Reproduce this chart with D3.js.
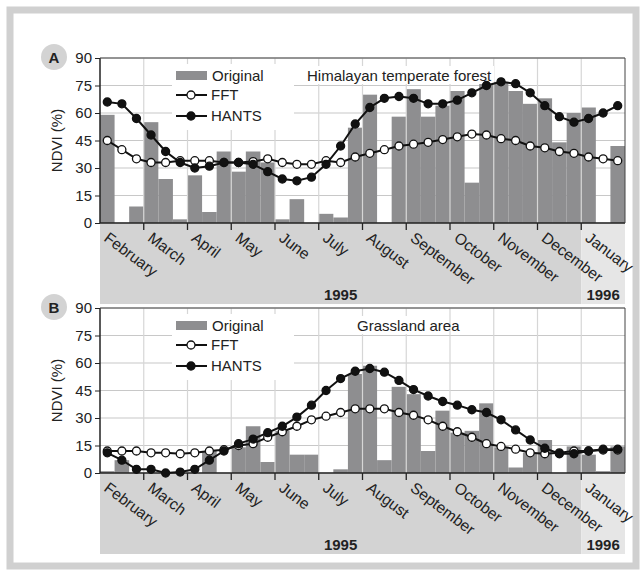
<!DOCTYPE html>
<html><head><meta charset="utf-8">
<script src="https://cdn.jsdelivr.net/npm/d3@7"></script>
<style>body{margin:0;background:#fff}svg{font-family:"Liberation Sans",Arial,sans-serif}</style>
</head><body><svg id="c" width="640" height="577"></svg>
<script>
const months=["February","March","April","May","June","July","August","September","October","November","December","January"];
const yTicks=[0,15,30,45,60,75,90];
const barsA=[59,0,9,55,24,2,26,6,39,28,39,33,2,13,0,5,3,52,70,0,58,73,58,64,72,22,77,77,72,65,68,44,60,63,0,42];
const fftA=[45,40,35,33,33,34,34,34,33,33,33.5,35,33,32,32,34,33,36,38,40,42,43,44,45.5,47,48.5,48,46,45,42,41,39,38,36,35,34];
const hantsA=[66,65,57,48,39,33,30,31,33,33,32,28,24,23,25,32,42,54,63,68,69,68,65,65,67,71,75,77,76,71,64,58,55,57,60,64];
const barsB=[1,7,0,0,0,0,0,12,0,14,25.5,6,23,10,10,0,2,54,58.5,7,47,43,12,34,22,23,38,14,3,11,18,0,14.5,10,1,14.5];
const fftB=[12,12,12,11,11,10.5,11,12,12.7,15,16,19.5,22.5,25.5,29,31,33,35,35,35,33,31.5,29,25.5,22.5,19.5,16,14.5,13,11,10.5,11,12,12,12.5,12.5];
const hantsB=[11,7,2,2,0,0.5,2,7,12,16,18.5,22,25.5,30.5,37,45,51.5,55.5,57,55,50.5,45.5,42,39,37,34.5,33,29,23.5,18,13.5,10.5,10.5,12,13,13];
const panels=[{id:"A",title:"Himalayan temperate forest",bars:barsA,fft:fftA,hants:hantsA,top:58},
              {id:"B",title:"Grassland area",bars:barsB,fft:fftB,hants:hantsB,top:308}];
const svg=d3.select("#c");
svg.append("rect").attr("x",10).attr("y",10).attr("width",626).attr("height",556).attr("fill","none").attr("stroke","#d0d0d0").attr("stroke-width",7);
const L=100,R=625,H=165,N=36;
const x=d3.scaleBand().domain(d3.range(N)).range([L,R]).padding(0);
panels.forEach(p=>{
  const g=svg.append("g");
  const y=d3.scaleLinear().domain([0,90]).range([p.top+H,p.top]);
  const bottom=p.top+H;
  const mStart=i=>x(i*3);
  g.append("rect").attr("x",L).attr("y",bottom).attr("width",mStart(11)-L).attr("height",81).attr("fill","#d3d3d3");
  g.append("rect").attr("x",mStart(11)).attr("y",bottom).attr("width",R-mStart(11)).attr("height",81).attr("fill","#e6e6e6");
  g.selectAll(".hg").data(yTicks).join("line").attr("x1",L).attr("x2",R).attr("y1",d=>y(d)).attr("y2",d=>y(d)).attr("stroke","#c8c8c8").attr("stroke-width",1.2);
  g.selectAll(".b").data(p.bars).join("rect").attr("x",(d,i)=>x(i)).attr("width",x.bandwidth()).attr("y",d=>y(d)).attr("height",d=>bottom-y(d)).attr("fill","#8e8e90");
  g.selectAll(".vg").data(d3.range(1,12)).join("line").attr("x1",mStart).attr("x2",mStart).attr("y1",p.top).attr("y2",bottom).attr("stroke","#d6d6d6").attr("stroke-width",1.2);
  g.append("rect").attr("x",172).attr("y",p.top+6).attr("width",122).attr("height",66).attr("fill","#fff");
  const tw=p.id==="A"?190:90;
  g.append("rect").attr("x",(p.id==="A"?307:357)-3).attr("y",p.top+8).attr("width",tw).attr("height",18).attr("fill","#fff");
  g.append("line").attr("x1",L).attr("x2",L).attr("y1",p.top).attr("y2",bottom).attr("stroke","#222").attr("stroke-width",1.5);
  g.append("line").attr("x1",L).attr("x2",R).attr("y1",bottom).attr("y2",bottom).attr("stroke","#222").attr("stroke-width",1.5);
  g.append("line").attr("x1",L).attr("x2",R).attr("y1",p.top).attr("y2",p.top).attr("stroke","#444").attr("stroke-width",1);
  g.append("line").attr("x1",R).attr("x2",R).attr("y1",p.top).attr("y2",bottom).attr("stroke","#444").attr("stroke-width",1);
  const ya=d3.axisLeft(y).tickValues(yTicks).tickSize(5).tickPadding(3);
  const ag=g.append("g").attr("transform",`translate(${L},0)`).call(ya);
  ag.select(".domain").remove();
  ag.selectAll("text").attr("font-size",15).attr("fill","#222");
  ag.selectAll("line").attr("stroke","#222");
  g.selectAll(".mt").data(d3.range(1,12)).join("line").attr("x1",mStart).attr("x2",mStart).attr("y1",bottom).attr("y2",bottom+7).attr("stroke","#222").attr("stroke-width",1.3);
  g.selectAll(".ml").data(months).join("text").attr("transform",(d,i)=>`translate(${mStart(i)+3},${bottom+17}) rotate(37)`).attr("font-size",15.5).attr("fill","#222").text(d=>d);
  g.append("text").attr("x",(L+mStart(11))/2).attr("y",bottom+77).attr("text-anchor","middle").attr("font-weight","bold").attr("font-size",15).attr("fill","#222").text("1995");
  g.append("text").attr("x",(mStart(11)+R)/2).attr("y",bottom+77).attr("text-anchor","middle").attr("font-weight","bold").attr("font-size",15).attr("fill","#222").text("1996");
  const line=d3.line().x((d,i)=>x(i)+x.bandwidth()/2).y(d=>y(d));
  [[p.fft,"#fff"],[p.hants,"#111"]].forEach(([s,f])=>{
    g.append("path").attr("d",line(s)).attr("fill","none").attr("stroke","#111").attr("stroke-width",2);
    g.selectAll(null).data(s).join("circle").attr("cx",(d,i)=>x(i)+x.bandwidth()/2).attr("cy",d=>y(d)).attr("r",4).attr("fill",f).attr("stroke","#111").attr("stroke-width",1.3);
  });
  const lx=176, ly=p.top;
  g.append("rect").attr("x",lx).attr("y",ly+13).attr("width",31).attr("height",9).attr("fill","#8e8e90");
  g.append("text").attr("x",212).attr("y",ly+23).attr("font-size",15).attr("fill","#222").text("Original");
  [["FFT","#fff",37],["HANTS","#111",58]].forEach(([t,f,dy])=>{
    g.append("line").attr("x1",lx).attr("x2",lx+31).attr("y1",ly+dy).attr("y2",ly+dy).attr("stroke","#111").attr("stroke-width",2);
    g.append("circle").attr("cx",lx+15).attr("cy",ly+dy).attr("r",4).attr("fill",f).attr("stroke","#111").attr("stroke-width",1.3);
    g.append("text").attr("x",lx+35).attr("y",ly+dy+5).attr("font-size",15).attr("fill","#222").text(t);
  });
  g.append("text").attr("x",p.id==="A"?307:357).attr("y",ly+23).attr("font-size",15).attr("fill","#222").text(p.title);
  g.append("text").attr("transform",`translate(62,${p.top+H/2}) rotate(-90)`).attr("text-anchor","middle").attr("font-size",15).attr("fill","#222").text("NDVI (%)");
  g.append("circle").attr("cx",54).attr("cy",p.top-1).attr("r",13).attr("fill","#d3d3d3");
  g.append("text").attr("x",54).attr("y",p.top+5).attr("text-anchor","middle").attr("font-weight","bold").attr("font-size",15).attr("fill","#222").text(p.id);
});
</script></body></html>
